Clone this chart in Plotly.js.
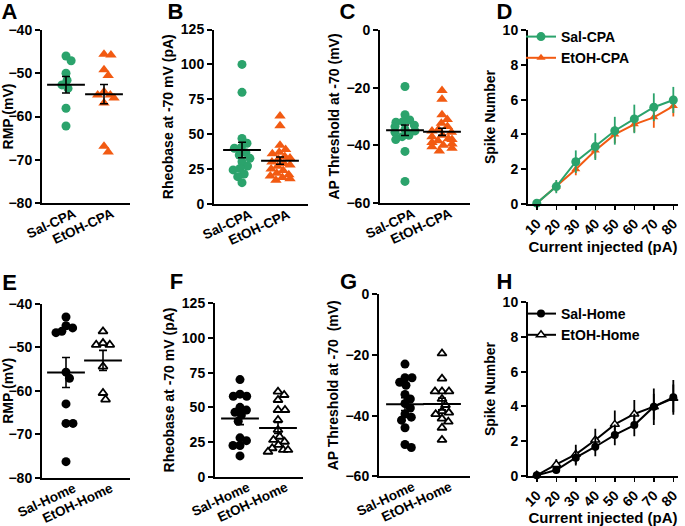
<!DOCTYPE html>
<html>
<head>
<meta charset="utf-8">
<script src="https://cdn.plot.ly/plotly-3.0.1.min.js"></script>
<style>
  html, body { margin: 0; padding: 0; background: #fff; }
  #chart { width: 685px; height: 526px; }
</style>
</head>
<body>
<div id="chart"></div>
<script>
// Group names
var cpa_groups = ["Sal-CPA", "EtOH-CPA"];
var home_groups = ["Sal-Home", "EtOH-Home"];

// A / E: resting membrane potential (mV)
var rmp_sal_cpa = [-46, -47.1, -50, -51.6, -52.7, -53.5, -58.1, -62.2];
var rmp_etoh_cpa = [-45.8, -45.6, -49.2, -50.5, -55, -54.3, -55, -55.7, -56.9, -66.9, -68.2];
var rmp_sal_home = [-43, -45, -45.5, -46.3, -46.6, -55.7, -57.1, -63, -67.5, -67.5, -76.3];
var rmp_etoh_home = [-46.3, -49.4, -49.4, -49, -54.4, -60.5, -62];

// B / F: rheobase at -70 mV (pA)
var rheo_sal_cpa = [100, 80, 47, 43.5, 40.6, 39.9, 36.8, 35.1, 32.7, 30.3, 27.2, 25.5, 24.4, 21.5, 19.6, 15.3];
var rheo_etoh_cpa = [63, 56, 42, 39, 37, 36, 34, 33, 32, 30, 29, 28, 27, 25, 24, 22, 21, 20, 19, 18, 17];
var rheo_sal_home = [70, 58, 58, 59.5, 50, 48, 46.5, 44.5, 40, 28, 26, 22.5, 22.5, 15];
var rheo_etoh_home = [61.3, 58.9, 55.3, 48.1, 48.1, 40.9, 33.7, 28.8, 26.5, 25.2, 22.9, 20.5, 19.3, 18, 19.3];

// C / G: AP threshold at -70 (mV)
var thr_sal_cpa = [-19.6, -29.4, -31.2, -31.8, -32, -33, -33.5, -34.5, -35, -35.5, -36.5, -37, -38, -42.1, -52.5];
var thr_etoh_cpa = [-21, -24, -29.4, -31, -32.3, -33.5, -34.5, -35, -35.5, -36.5, -37, -37.7, -38.4, -38, -39, -39.5, -40, -40.5, -41, -42];
var thr_sal_home = [-23, -27.5, -27.5, -29, -30, -33, -34.5, -36, -37.5, -39.5, -40.5, -41.5, -44, -49.5, -50.5];
var thr_etoh_home = [-19.5, -27.8, -32, -32, -32, -34.5, -36.5, -38.5, -39, -39.5, -41, -42, -44, -48];

// D / H: spike number vs current injected (mean, sem)
var current_pa = [10, 20, 30, 40, 50, 60, 70, 80];
var spk_sal_cpa = [0.05, 1.0, 2.43, 3.3, 4.21, 4.89, 5.56, 5.98];
var spk_sal_cpa_sem = [0.05, 0.38, 0.65, 0.77, 0.8, 0.82, 0.8, 0.75];
var spk_etoh_cpa = [0.05, 1.0, 2.0, 3.07, 4.0, 4.58, 4.98, 5.63];
var spk_etoh_cpa_sem = [0.05, 0.3, 0.35, 0.45, 0.5, 0.45, 0.6, 0.6];
var spk_sal_home = [0.02, 0.33, 1.04, 1.67, 2.35, 2.92, 3.98, 4.52];
var spk_sal_home_sem = [0.02, 0.2, 0.45, 0.55, 0.6, 0.65, 1.05, 1.0];
var spk_etoh_home = [0.02, 0.65, 1.23, 2.06, 2.96, 3.56, 3.98, 4.46];
var spk_etoh_home_sem = [0.02, 0.3, 0.55, 0.65, 0.8, 0.8, 0.75, 0.8];

var green = "#2ba36c";
var orange = "#f25a12";
var font_family = "Arial, 'Liberation Sans', sans-serif";
var W = 685, H = 526;

// pixel -> paper
function px_x(p) { return p / W; }
function px_y(p) { return 1 - p / H; }

function mean(a) { return a.reduce(function (s, v) { return s + v; }, 0) / a.length; }
function sem(a) {
  var m = mean(a);
  var ss = a.reduce(function (s, v) { return s + (v - m) * (v - m); }, 0);
  return Math.sqrt(ss / (a.length - 1)) / Math.sqrt(a.length);
}

// simple beeswarm: horizontal pixel offsets so dots don't pile up
function swarm(values, px_per_y, diam, cap) {
  var placed = [];
  var offs = new Array(values.length);
  var order = values.map(function (v, i) { return i; })
    .sort(function (a, b) { return values[b] - values[a]; });
  order.forEach(function (i) {
    var y = values[i] * px_per_y;
    var cands = [0];
    placed.forEach(function (p) {
      var dy = y - p.y;
      if (Math.abs(dy) < diam) {
        var dx = Math.sqrt(diam * diam - dy * dy);
        cands.push(p.x + dx, p.x - dx);
      }
    });
    cands.sort(function (a, b) { return Math.abs(a) - Math.abs(b) || b - a; });
    var best = cands.find(function (c) {
      return placed.every(function (p) {
        var dx = c - p.x, dy = y - p.y;
        return dx * dx + dy * dy >= diam * diam - 0.01;
      });
    });
    if (Math.abs(best) > cap) best = best > 0 ? cap : -cap;
    offs[i] = best;
    placed.push({ x: best, y: y });
  });
  return offs;
}

var traces = [];
var layout = {
  width: W, height: H,
  margin: { l: 0, r: 0, t: 0, b: 0 },
  paper_bgcolor: "#fff", plot_bgcolor: "rgba(0,0,0,0)",
  font: { family: font_family, color: "#000", size: 14, weight: "bold" },
  showlegend: true,
  annotations: []
};

function y_axis(box, range, dtick, title) {
  return {
    domain: [px_y(box[3]), px_y(box[2])], range: range, dtick: dtick,
    showline: true, linewidth: 2, linecolor: "#000",
    ticks: "outside", ticklen: 5, tickwidth: 2, tickcolor: "#000",
    showgrid: false, zeroline: false, fixedrange: true,
    tickfont: { size: 14, weight: "bold" },
    title: { text: title, font: { size: 14, weight: "bold" }, standoff: 4 }
  };
}

// dot plot panel (scatter of individual cells + mean +/- sem)
function dot_panel(n, box, cats_px, yrange, dtick, title, groups, sets, styles) {
  var ppu = cats_px[1] - cats_px[0];
  var r0 = -(cats_px[0] - box[0]) / ppu;
  var r1 = r0 + (box[1] - box[0]) / ppu;
  var px_per_y = (box[3] - box[2]) / (yrange[1] - yrange[0]);
  var xa = n === 1 ? "x" : "x" + n, ya = n === 1 ? "y" : "y" + n;
  layout[n === 1 ? "xaxis" : "xaxis" + n] = {
    domain: [px_x(box[0]), px_x(box[1])], range: [r0, r1], anchor: ya,
    tickvals: [0, 1], ticktext: groups, tickangle: -25, ticks: "",
    ticklabelstandoff: -4, ticklabelshift: 8,
    showline: true, linewidth: 2, linecolor: "#000",
    showgrid: false, zeroline: false, fixedrange: true,
    tickfont: { size: 13.5, weight: "bold" }
  };
  var yax = y_axis(box, yrange, dtick, title);
  yax.anchor = xa;
  layout[n === 1 ? "yaxis" : "yaxis" + n] = yax;

  sets.forEach(function (vals, g) {
    var offs = swarm(vals, px_per_y, 7, 10);
    traces.push({
      type: "scatter", mode: "markers", xaxis: xa, yaxis: ya, showlegend: false,
      x: vals.map(function (v, i) { return g + offs[i] / ppu; }),
      y: vals, cliponaxis: false,
      marker: styles[g], hoverinfo: "y"
    });
  });
  sets.forEach(function (vals, g) {
    traces.push({
      type: "scatter", mode: "markers", xaxis: xa, yaxis: ya, showlegend: false,
      x: [g], y: [mean(vals)], cliponaxis: false,
      marker: { symbol: "line-ew", size: 27, color: "#000", line: { width: 2, color: "#000" } },
      error_y: { type: "data", array: [sem(vals)], width: 4, thickness: 1.6, color: "#000" }
    });
  });
}

var st_sal_cpa = { symbol: "circle", size: 9, color: green, line: { width: 0 } };
var st_etoh_cpa = { symbol: "triangle-up", size: 10, color: orange, line: { width: 0 } };
var st_sal_home = { symbol: "circle", size: 9, color: "#000", line: { width: 0 } };
var st_etoh_home = { symbol: "triangle-up", size: 8, color: "#fff", line: { width: 1.8, color: "#000" } };

dot_panel(1, [42, 130, 30, 203], [66, 104], [-80, -40], 10, "RMP (mV)", cpa_groups,
  [rmp_sal_cpa, rmp_etoh_cpa], [st_sal_cpa, st_etoh_cpa]);
dot_panel(2, [214, 308, 29.5, 204], [242, 280], [0, 125], 25, "Rheobase at -70 mV (pA)", cpa_groups,
  [rheo_sal_cpa, rheo_etoh_cpa], [st_sal_cpa, st_etoh_cpa]);
dot_panel(3, [380, 470, 30, 203], [405, 442], [-60, 0], 20, "AP Threshold at -70 (mV)", cpa_groups,
  [thr_sal_cpa, thr_etoh_cpa], [st_sal_cpa, st_etoh_cpa]);
dot_panel(5, [42, 130, 304, 477.7], [66, 103], [-80, -40], 10, "RMP (mV)", home_groups,
  [rmp_sal_home, rmp_etoh_home], [st_sal_home, st_etoh_home]);
dot_panel(6, [215, 303, 303.3, 476.7], [240, 278], [0, 125], 25, "Rheobase at -70 mV (pA)", home_groups,
  [rheo_sal_home, rheo_etoh_home], [st_sal_home, st_etoh_home]);
dot_panel(7, [379, 470, 294.3, 476.3], [405, 442], [-60, 0], 20, "AP Threshold at -70  (mV)", home_groups,
  [thr_sal_home, thr_etoh_home], [st_sal_home, st_etoh_home]);

// line panels (spike number vs current)
function line_panel(n, box, legend_id, series) {
  var xa = "x" + n, ya = "y" + n;
  layout["xaxis" + n] = {
    domain: [px_x(box[0]), px_x(box[1])], range: [5.5, 82.4], anchor: ya,
    tickvals: current_pa, tickangle: -45,
    showline: true, linewidth: 2, linecolor: "#000",
    ticks: "outside", ticklen: 4, tickwidth: 1.5, tickcolor: "#000",
    showgrid: false, zeroline: false, fixedrange: true,
    tickfont: { size: 14, weight: "bold" },
    title: { text: "Current injected (pA)", font: { size: 15, weight: "bold" }, standoff: 2 }
  };
  var yax = y_axis(box, [0, 10], 2, "Spike Number");
  yax.anchor = xa;
  layout["yaxis" + n] = yax;
  series.forEach(function (s) {
    traces.push({
      type: "scatter", mode: "lines+markers", xaxis: xa, yaxis: ya,
      name: s.name, legend: legend_id, legendrank: s.rank, cliponaxis: false,
      x: current_pa, y: s.y,
      line: { color: s.line, width: 2 },
      marker: s.marker,
      error_y: { type: "data", array: s.err, width: 0, thickness: 1.8, color: s.line }
    });
  });
}

line_panel(4, [528, 678, 30, 204], "legend", [
  { name: "EtOH-CPA", rank: 2, y: spk_etoh_cpa, err: spk_etoh_cpa_sem, line: orange,
    marker: { symbol: "triangle-up", size: 8, color: orange } },
  { name: "Sal-CPA", rank: 1, y: spk_sal_cpa, err: spk_sal_cpa_sem, line: green,
    marker: { symbol: "circle", size: 9, color: green } }
]);
line_panel(8, [528, 678, 302.3, 475.7], "legend2", [
  { name: "EtOH-Home", rank: 2, y: spk_etoh_home, err: spk_etoh_home_sem, line: "#000",
    marker: { symbol: "triangle-up", size: 8, color: "#fff", line: { width: 1.5, color: "#000" } } },
  { name: "Sal-Home", rank: 1, y: spk_sal_home, err: spk_sal_home_sem, line: "#000",
    marker: { symbol: "circle", size: 8, color: "#000" } }
]);

var leg = {
  xanchor: "left", yanchor: "top", bgcolor: "rgba(0,0,0,0)",
  font: { size: 14, weight: "bold" }, itemwidth: 30, tracegroupgap: 0
};
layout.legend = Object.assign({ x: px_x(521), y: px_y(21) }, leg);
layout.legend2 = Object.assign({ x: px_x(521), y: px_y(298) }, leg);

// panel letters (tight boxes so they sit close to the tick labels)
[["A", 0, 1], ["B", 166, 1], ["C", 338, 1], ["D", 495, 1],
 ["E", 0, 272], ["F", 167, 271], ["G", 339, 271], ["H", 495, 271]].forEach(function (p) {
  layout.annotations.push({
    text: p[0], xref: "paper", yref: "paper", x: px_x(p[1]), y: px_y(p[2]),
    xanchor: "left", yanchor: "top", showarrow: false,
    height: 18, width: 17, borderpad: 0, valign: "middle",
    font: { size: 22, weight: "bold", color: "#000" }
  });
});

Plotly.newPlot("chart", traces, layout, { displayModeBar: false, staticPlot: true });
</script>
</body>
</html>
